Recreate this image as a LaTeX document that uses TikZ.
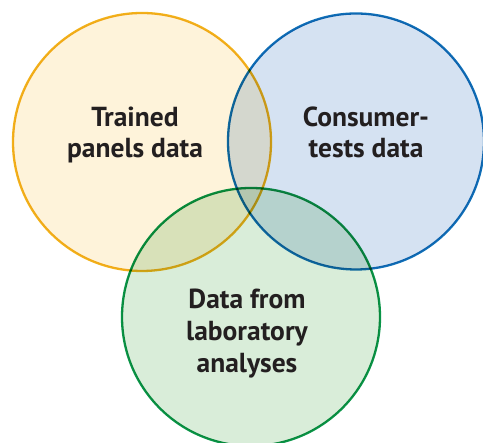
\documentclass[tikz,border=0pt]{standalone}
\usepackage{fontspec}
\setmainfont{PT Sans}
\definecolor{yfill}{HTML}{FEF3DA}
\definecolor{ydraw}{HTML}{F2B21B}
\definecolor{bfill}{HTML}{D5E2F2}
\definecolor{bdraw}{HTML}{1070B8}
\definecolor{gfill}{HTML}{D9EDD9}
\definecolor{gdraw}{HTML}{0A9548}
\definecolor{txt}{HTML}{231F20}
\begin{document}
\begin{tikzpicture}[x=1pt,y=1pt,
  ring/.style={line width=2.3pt},
  lbl/.style={anchor=base,inner sep=0pt,text=txt,font=\fontsize{27.5}{32}\selectfont\bfseries}]
\useasboundingbox (0,0) rectangle (483,443);
\begin{scope}[blend group=multiply]
\draw[ring,draw=ydraw,fill=yfill] (142,301) circle (129);
\draw[ring,draw=bdraw,fill=bfill] (356,301.5) circle (128);
\draw[ring,draw=gdraw,fill=gfill] (251,126) circle (129);
\end{scope}
\node[lbl] (t1) at (135,316) {Trained};
\node[lbl] (t2) at (135,285) {panels data};
\node[lbl] (c1) at (366,316) {Consumer-};
\node[lbl] (c2) at (366,285) {tests data};
\node[lbl] (d1) at (247,134) {Data from};
\node[lbl] (d2) at (247,102) {laboratory};
\node[lbl] (d3) at (247,70) {analyses};
\end{tikzpicture}
\end{document}
